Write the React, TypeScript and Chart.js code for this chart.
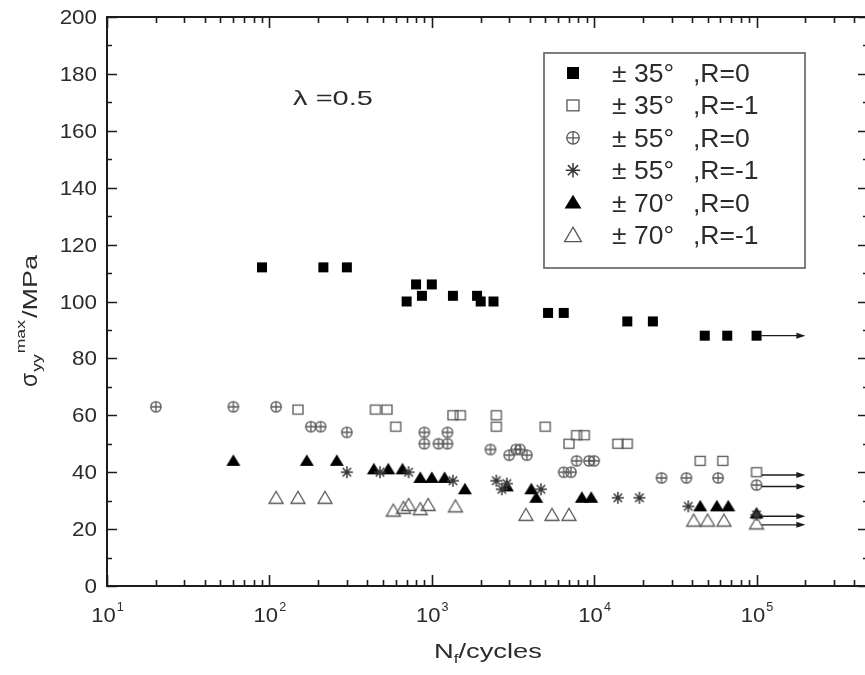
import React, { useEffect, useRef } from 'react';
import { Chart, registerables } from 'chart.js';

Chart.register(...registerables);

const FONT = '"Liberation Sans", Arial, Helvetica, sans-serif';
const INK = '#1c1c1c';
const TEXT = '#2b2b2b';
const GRAY = '#575757';

// ±35°, R=0
const cycles35R0 = [90, 215, 300, 700, 800, 870, 1000, 1350, 1900, 2000, 2400, 5200, 6500, 16000, 23000, 48000, 66000, 100000];
const stress35R0 = [112, 112, 112, 100, 106, 102, 106, 102, 102, 100, 100, 96, 96, 93, 93, 88, 88, 88];

// ±35°, R=-1
const cycles35Rm1 = [150, 450, 530, 600, 1350, 1500, 2500, 2500, 5000, 7000, 7800, 8700, 14000, 16000, 45000, 62000, 100000];
const stress35Rm1 = [62, 62, 62, 56, 60, 60, 60, 56, 56, 50, 53, 53, 50, 50, 44, 44, 40];

// ±55°, R=0
const cycles55R0 = [20, 60, 110, 180, 207, 300, 900, 1250, 900, 1100, 1250, 2300, 3000, 3300, 3500, 3850, 6500, 7200, 7800, 9300, 10000, 26000, 37000, 58000, 100000];
const stress55R0 = [63, 63, 63, 56, 56, 54, 54, 54, 50, 50, 50, 48, 46, 48, 48, 46, 40, 40, 44, 44, 44, 38, 38, 38, 35.5];

// ±55°, R=-1
const cycles55Rm1 = [300, 480, 720, 1350, 2500, 2700, 2900, 4700, 14000, 19000, 38000, 100000];
const stress55Rm1 = [40, 40, 40, 37, 37, 34, 36, 34, 31, 31, 28, 25];

// ±70°, R=0
const cycles70R0 = [60, 170, 260, 440, 540, 660, 850, 1000, 1200, 1600, 2900, 4100, 4400, 8400, 9600, 45000, 57000, 67000, 100000];
const stress70R0 = [44, 44, 44, 41, 41, 41, 38, 38, 38, 34, 35, 34, 31, 31, 31, 28, 28, 28, 25.5];

// ±70°, R=-1
const cycles70Rm1 = [110, 150, 220, 580, 670, 720, 850, 950, 1400, 3800, 5500, 7000, 41000, 50000, 63000, 100000];
const stress70Rm1 = [31, 31, 31, 26.5, 27.5, 28.5, 27, 28.5, 28, 25, 25, 25, 23, 23, 23, 22];

const seriesCycles = [cycles35R0, cycles35Rm1, cycles55R0, cycles55Rm1, cycles70R0, cycles70Rm1];
const seriesStress = [stress35R0, stress35Rm1, stress55R0, stress55Rm1, stress70R0, stress70Rm1];
const seriesAngles = ['± 35°', '± 35°', '± 55°', '± 55°', '± 70°', '± 70°'];
const seriesRatios = [',R=0', ',R=-1', ',R=0', ',R=-1', ',R=0', ',R=-1'];
const seriesMarkers = ['filledSquare', 'openSquare', 'circlePlus', 'star', 'filledTriangle', 'openTriangle'];

// Axis ticks
const yTickValues = [0, 20, 40, 60, 80, 100, 120, 140, 160, 180, 200];
const xDecadeExponents = [1, 2, 3, 4, 5];
const xMin = 10;
const xMax = 5e5;
const yMin = 0;
const yMax = 200;

// Run-out specimens (arrows from 1e5 to 2e5 cycles)
const runoutLevels = [88, 39, 35, 24.5, 21.5];
const runoutFrom = 1e5;
const runoutTo = 2e5;

const lambdaLabel = 'λ =0.5';
const yTitleParts = ['σ', 'yy', 'max', '/MPa'];
const xTitleParts = ['N', 'f', '/cycles'];

function drawMarker(ctx: CanvasRenderingContext2D, kind: string, cx: number, cy: number, s: number) {
  ctx.save();
  ctx.lineWidth = 1.3;
  ctx.strokeStyle = GRAY;
  ctx.fillStyle = '#000';
  switch (kind) {
    case 'filledSquare':
      ctx.fillRect(cx - 5 * s, cy - 5 * s, 10 * s, 10 * s);
      break;
    case 'openSquare':
      ctx.strokeRect(cx - 5 * s, cy - 4.5 * s, 10 * s, 9 * s);
      break;
    case 'circlePlus': {
      const r = 5.2 * s;
      ctx.beginPath();
      ctx.arc(cx, cy, r, 0, Math.PI * 2);
      ctx.moveTo(cx - r, cy);
      ctx.lineTo(cx + r, cy);
      ctx.moveTo(cx, cy - r);
      ctx.lineTo(cx, cy + r);
      ctx.stroke();
      break;
    }
    case 'star': {
      const r = 6 * s;
      ctx.strokeStyle = '#383838';
      ctx.lineWidth = 1.5;
      ctx.beginPath();
      for (let k = 0; k < 4; k++) {
        const a = (k * Math.PI) / 4;
        ctx.moveTo(cx - r * Math.cos(a), cy - r * Math.sin(a));
        ctx.lineTo(cx + r * Math.cos(a), cy + r * Math.sin(a));
      }
      ctx.stroke();
      break;
    }
    case 'filledTriangle':
      ctx.beginPath();
      ctx.moveTo(cx, cy - 6.5 * s);
      ctx.lineTo(cx + 7 * s, cy + 5 * s);
      ctx.lineTo(cx - 7 * s, cy + 5 * s);
      ctx.closePath();
      ctx.fill();
      break;
    case 'openTriangle':
      ctx.beginPath();
      ctx.moveTo(cx, cy - 6.5 * s);
      ctx.lineTo(cx + 7 * s, cy + 5.5 * s);
      ctx.lineTo(cx - 7 * s, cy + 5.5 * s);
      ctx.closePath();
      ctx.stroke();
      break;
  }
  ctx.restore();
}

function markerImage(kind: string): HTMLCanvasElement {
  const c = document.createElement('canvas');
  c.width = 24;
  c.height = 24;
  const ctx = c.getContext('2d')!;
  drawMarker(ctx, kind, 12, 12, 1);
  return c;
}

function text(
  ctx: CanvasRenderingContext2D,
  str: string,
  x: number,
  y: number,
  size: number,
  sx: number,
  align: 'left' | 'center' | 'right',
  color = TEXT,
): number {
  ctx.save();
  ctx.font = `${size}px ${FONT}`;
  ctx.fillStyle = color;
  ctx.textBaseline = 'alphabetic';
  ctx.textAlign = 'left';
  const w = ctx.measureText(str).width * sx;
  let x0 = x;
  if (align === 'center') x0 = x - w / 2;
  else if (align === 'right') x0 = x - w;
  ctx.translate(x0, y);
  ctx.scale(sx, 1);
  ctx.fillText(str, 0, 0);
  ctx.restore();
  return w;
}

function measure(ctx: CanvasRenderingContext2D, str: string, size: number, sx: number) {
  ctx.save();
  ctx.font = `${size}px ${FONT}`;
  const w = ctx.measureText(str).width * sx;
  ctx.restore();
  return w;
}

const background = {
  id: 'background',
  beforeDraw(chart: any) {
    const { ctx, width, height } = chart;
    ctx.save();
    ctx.fillStyle = '#ffffff';
    ctx.fillRect(0, 0, width, height);
    ctx.restore();
  },
};

const runoutArrows = {
  id: 'runoutArrows',
  afterDatasetsDraw(chart: any) {
    const { ctx } = chart;
    const xs = chart.scales.x;
    const ys = chart.scales.y;
    const x1 = xs.getPixelForValue(runoutFrom) + 5;
    const x2 = xs.getPixelForValue(runoutTo);
    ctx.save();
    ctx.strokeStyle = INK;
    ctx.fillStyle = INK;
    ctx.lineWidth = 1.4;
    for (const v of runoutLevels) {
      const y = ys.getPixelForValue(v);
      ctx.beginPath();
      ctx.moveTo(x1, y);
      ctx.lineTo(x2 - 6, y);
      ctx.stroke();
      ctx.beginPath();
      ctx.moveTo(x2, y);
      ctx.lineTo(x2 - 9, y - 3);
      ctx.lineTo(x2 - 9, y + 3);
      ctx.closePath();
      ctx.fill();
    }
    ctx.restore();
  },
};

const axesFrame = {
  id: 'axesFrame',
  afterDraw(chart: any) {
    const { ctx, chartArea } = chart;
    const { left, right, top, bottom } = chartArea;
    const xs = chart.scales.x;
    const ys = chart.scales.y;

    ctx.save();
    ctx.strokeStyle = INK;
    ctx.lineWidth = 2;
    ctx.strokeRect(left, top, right - left, bottom - top);

    // y ticks (inside, left and right)
    ctx.lineWidth = 1.6;
    ctx.beginPath();
    for (let v = yMin; v <= yMax; v += 10) {
      const y = Math.round(ys.getPixelForValue(v)) + 0.5;
      const len = v % 20 === 0 ? 10 : 5;
      ctx.moveTo(left, y);
      ctx.lineTo(left + len, y);
      ctx.moveTo(right, y);
      ctx.lineTo(right - len - 2, y);
    }
    // x ticks (inside, bottom and top)
    for (let e = 1; e <= 5; e++) {
      for (let m = 1; m <= 9; m++) {
        const v = m * Math.pow(10, e);
        if (v > xMax) continue;
        const x = Math.round(xs.getPixelForValue(v)) + 0.5;
        const len = m === 1 ? 11 : 6;
        ctx.moveTo(x, bottom);
        ctx.lineTo(x, bottom - len);
        ctx.moveTo(x, top);
        ctx.lineTo(x, top + len);
      }
    }
    ctx.stroke();
    ctx.restore();

    // y tick labels
    for (const v of yTickValues) {
      const y = ys.getPixelForValue(v);
      text(ctx, String(v), left - 10, y + 7, 20, 1.12, 'right');
    }

    // x tick labels: 10 with superscript exponent
    for (const e of xDecadeExponents) {
      const x = xs.getPixelForValue(Math.pow(10, e));
      const wBase = measure(ctx, '10', 21, 1.05);
      const wExp = measure(ctx, String(e), 12, 1.05);
      const x0 = x - (wBase + wExp) / 2;
      text(ctx, '10', x0, bottom + 36, 21, 1.05, 'left');
      text(ctx, String(e), x0 + wBase + 1, bottom + 25, 12, 1.05, 'left');
    }

    // x axis title: N_f/cycles
    {
      const sx = 1.3;
      const w0 = measure(ctx, xTitleParts[0], 21, sx);
      const w1 = measure(ctx, xTitleParts[1], 13, sx);
      const w2 = measure(ctx, xTitleParts[2], 21, sx);
      const total = w0 + w1 + w2;
      const cx = 488;
      const base = bottom + 72;
      let x = cx - total / 2;
      text(ctx, xTitleParts[0], x, base, 21, sx, 'left');
      x += w0;
      text(ctx, xTitleParts[1], x, base + 5, 13, sx, 'left');
      x += w1;
      text(ctx, xTitleParts[2], x, base, 21, sx, 'left');
    }

    // y axis title: σ_yy^max/MPa, rotated
    {
      const sx = 1.35;
      ctx.save();
      ctx.translate(left - 70, top + 370);
      ctx.rotate(-Math.PI / 2);
      let x = 0;
      x += text(ctx, yTitleParts[0], x, 0, 23, 1.0, 'left');
      const wSub = text(ctx, yTitleParts[1], x + 1, 4, 13, sx, 'left');
      x += wSub + 2;
      x += text(ctx, yTitleParts[2], x, -12, 13, sx, 'left');
      x += 2;
      text(ctx, yTitleParts[3], x, 0, 20, sx, 'left');
      ctx.restore();
    }

    // λ annotation
    {
      const x = xs.getPixelForValue(140);
      const y = ys.getPixelForValue(169);
      text(ctx, lambdaLabel, x, y, 21, 1.38, 'left');
    }

    // legend box
    {
      const bx = left + 437;
      const by = top + 36;
      const bw = 261;
      const bh = 215;
      ctx.save();
      ctx.strokeStyle = '#5e5e5e';
      ctx.lineWidth = 1.6;
      ctx.strokeRect(bx, by, bw, bh);
      ctx.restore();
      for (let i = 0; i < seriesMarkers.length; i++) {
        const cy = by + 20 + i * 32.4;
        drawMarker(ctx, seriesMarkers[i], bx + 29, cy, 1.2);
        text(ctx, seriesAngles[i], bx + 68, cy + 9, 25, 1.06, 'left');
        text(ctx, seriesRatios[i], bx + 149, cy + 9, 25, 1.06, 'left');
      }
    }
  },
};

export default function App() {
  const canvasRef = useRef<HTMLCanvasElement | null>(null);

  useEffect(() => {
    document.body.style.margin = '0';
    const canvas = canvasRef.current;
    if (!canvas) return;
    const datasets = seriesMarkers.map((kind, i) => ({
      label: `${seriesAngles[i]} ${seriesRatios[i]}`,
      data: seriesCycles[i].map((c, j) => ({ x: c, y: seriesStress[i][j] })),
      pointStyle: markerImage(kind) as any,
      pointRadius: 6,
      showLine: false,
    }));
    const chart = new Chart(canvas, {
      type: 'scatter',
      data: { datasets },
      options: {
        responsive: false,
        animation: false,
        events: [],
        layout: { autoPadding: false, padding: { left: 107, top: 17, right: 2, bottom: 89 } },
        plugins: { legend: { display: false }, tooltip: { enabled: false } },
        scales: {
          x: { type: 'logarithmic', min: xMin, max: xMax, display: false },
          y: { type: 'linear', min: yMin, max: yMax, display: false },
        },
      },
      plugins: [background, runoutArrows, axesFrame],
    });
    return () => chart.destroy();
  }, []);

  // The plot frame's right edge sits just past the visible 865px width.
  return (
    <div style={{ position: 'absolute', left: 0, top: 0, width: 865, height: 675, overflow: 'hidden', background: '#fff' }}>
      <canvas ref={canvasRef} width={872} height={675} style={{ display: 'block' }} />
    </div>
  );
}
